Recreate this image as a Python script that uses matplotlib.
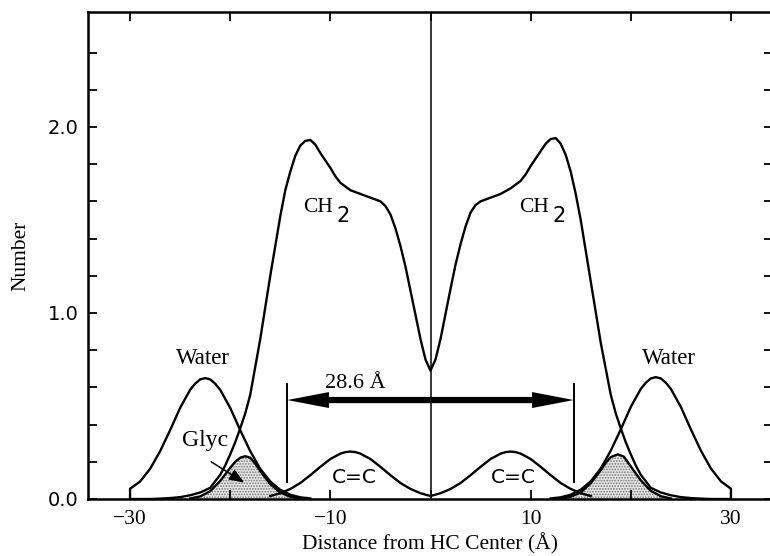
import numpy as np
import matplotlib
matplotlib.use("Agg")
import matplotlib.pyplot as plt

plt.rcParams["font.family"] = "Liberation Serif"
plt.rcParams["hatch.linewidth"] = 0.8

# ---- data ----
ch2_x = [-30, -28, -27, -26, -25, -24, -23, -22, -21, -20.5, -20, -19.5, -19,
         -18.5, -18, -17, -16, -15, -14.5, -14, -13.5, -13, -12.5, -12, -11.5,
         -11, -10.5, -10, -9.5, -9, -8, -7, -6, -5, -4.5, -4, -3.5, -3, -2.5,
         -2, -1.5, -1, -0.5, 0,
         0.5, 1, 1.5, 2, 2.5, 3, 3.5, 4, 4.5, 5, 6, 7, 8, 9, 9.5, 10, 10.5,
         11, 11.5, 12, 12.5, 13, 13.5, 14, 14.5, 15, 16, 17, 18, 18.5, 19,
         19.5, 20, 20.5, 21, 22, 23, 24, 25, 26, 27, 28, 30]
ch2_y = [0, 0, 0.002, 0.005, 0.01, 0.02, 0.035, 0.06, 0.13, 0.18, 0.24, 0.305,
         0.38, 0.46, 0.56, 0.86, 1.20, 1.52, 1.66, 1.76, 1.845, 1.90, 1.925,
         1.93, 1.905, 1.86, 1.82, 1.78, 1.735, 1.70, 1.66, 1.64, 1.62, 1.60,
         1.575, 1.53, 1.455, 1.36, 1.25, 1.12, 0.99, 0.86, 0.75, 0.69,
         0.75, 0.86, 0.995, 1.13, 1.26, 1.37, 1.465, 1.54, 1.58, 1.60, 1.62,
         1.64, 1.67, 1.71, 1.745, 1.79, 1.83, 1.87, 1.91, 1.935, 1.94, 1.91,
         1.85, 1.76, 1.64, 1.50, 1.17, 0.84, 0.56, 0.46, 0.38, 0.305, 0.24,
         0.18, 0.13, 0.06, 0.035, 0.02, 0.01, 0.005, 0.002, 0, 0]

water_l_x = [-30, -30, -29, -28, -27, -26, -25, -24, -23.5, -23, -22.5, -22,
             -21.5, -21, -20, -19, -18, -17, -16, -15, -14, -13, -12]
water_l_y = [0, 0.055, 0.094, 0.162, 0.257, 0.37, 0.49, 0.587, 0.62, 0.643, 0.65,
             0.643, 0.62, 0.587, 0.49, 0.37, 0.257, 0.162, 0.094, 0.049, 0.023,
             0.009, 0.003]
water_r_x = [12, 13, 14, 15, 16, 17, 18, 19, 20, 21, 21.5, 22, 22.5, 23,
             23.5, 24, 25, 26, 27, 28, 29, 30, 30]
water_r_y = [0.003, 0.009, 0.023, 0.05, 0.095, 0.164, 0.26, 0.374, 0.495, 0.592,
             0.625, 0.648, 0.655, 0.648, 0.625, 0.592, 0.495, 0.374, 0.26, 0.164,
             0.095, 0.055, 0]

glyc_l_x = [-24, -23, -22, -21, -20, -19.5, -19, -18.5, -18, -17.5, -17, -16,
            -15, -14, -13]
glyc_l_y = [0.003, 0.014, 0.042, 0.097, 0.168, 0.2, 0.222, 0.23, 0.222, 0.19,
            0.15, 0.08, 0.035, 0.012, 0.003]
glyc_r_x = [13, 14, 15, 16, 17, 17.5, 18, 18.7, 19.3, 20, 21, 22, 23, 24]
glyc_r_y = [0.003, 0.012, 0.035, 0.085, 0.155, 0.195, 0.225, 0.24, 0.228,
            0.175, 0.10, 0.044, 0.015, 0.003]

cc_l_x = [-16, -15, -14, -13, -12, -11, -10, -9, -8.5, -8, -7.5, -7, -6, -5,
          -4, -3, -2, -1, 0]
cc_l_y = [0.016, 0.031, 0.054, 0.086, 0.128, 0.173, 0.215, 0.244, 0.252, 0.255,
          0.252, 0.244, 0.215, 0.173, 0.128, 0.086, 0.054, 0.031, 0.016]
cc_r_x = [0, 1, 2, 3, 4, 5, 6, 7, 7.5, 8, 8.5, 9, 10, 11, 12, 13, 14, 15, 16]
cc_r_y = [0.016, 0.031, 0.054, 0.086, 0.128, 0.173, 0.215, 0.244, 0.252, 0.255,
          0.252, 0.244, 0.215, 0.173, 0.128, 0.086, 0.054, 0.031, 0.016]

bilayer_half = 14.3   # 28.6 A thickness
arrow_y = 0.532
bracket_y = [0.09, 0.62]

xticks = [-30, -20, -10, 0, 10, 20, 30]
xticklabels = ["\u221230", "", "\u221210", "", "10", "", "30"]
yticks = [0.0, 0.2, 0.4, 0.6, 0.8, 1.0, 1.2, 1.4, 1.6, 1.8, 2.0, 2.2, 2.4]
yticklabels = ["0.0", "", "", "", "", "1.0", "", "", "", "", "2.0", "", ""]

# ---- figure ----
fig = plt.figure(figsize=(7.7, 5.56), dpi=100)
ax = fig.add_axes([88 / 770, 57 / 556, 685 / 770, 487 / 556])
ax.set_xlim(-34.2, 34.2)
ax.set_ylim(0, 2.618)

lw = 1.7
ax.plot(ch2_x, ch2_y, color="k", lw=lw)
ax.plot(water_l_x, water_l_y, color="k", lw=lw)
ax.plot(water_r_x, water_r_y, color="k", lw=lw)
for gx, gy in [(glyc_l_x, glyc_l_y), (glyc_r_x, glyc_r_y)]:
    ax.fill_between(gx, 0, gy, facecolor="#e4e4e4", edgecolor="#777777",
                    hatch="......", linewidth=0)
    ax.plot(gx, gy, color="k", lw=lw)
ax.plot(cc_l_x, cc_l_y, color="k", lw=lw)
ax.plot(cc_r_x, cc_r_y, color="k", lw=lw)

# centre line
ax.axvline(0, color="k", lw=1.1)

# bracket + thickness arrow
for bx in (-bilayer_half, bilayer_half):
    ax.plot([bx, bx], bracket_y, color="k", lw=1.4)
for end in (-bilayer_half, bilayer_half):
    ax.annotate("", xy=(end, arrow_y), xytext=(0, arrow_y),
                arrowprops=dict(arrowstyle="simple,head_length=3.0,head_width=1.15,tail_width=0.45",
                                color="k", lw=0, shrinkA=0, shrinkB=0,
                                mutation_scale=10))
ax.text(-7.5, 0.62, "28.6 \u00c5", fontsize=16, ha="center", va="center")

# labels
ax.text(-22.7, 0.756, "Water", fontsize=16.5, ha="center", va="center")
ax.text(23.8, 0.756, "Water", fontsize=16.5, ha="center", va="center")
ax.text(-22.5, 0.317, "Glyc", fontsize=17, ha="center", va="center")
ax.annotate("", xy=(-18.6, 0.088), xytext=(-21.9, 0.20),
            arrowprops=dict(arrowstyle="-|>,head_length=0.9,head_width=0.35",
                            color="k", lw=1.1, shrinkA=0, shrinkB=0,
                            mutation_scale=10))
ax.text(-11.2, 1.565, "CH", fontsize=15.5, ha="center", va="center")
ax.text(-8.7, 1.52, "2", fontsize=15, ha="center", va="center",
        family="DejaVu Sans")
ax.text(10.3, 1.568, "CH", fontsize=15.5, ha="center", va="center")
ax.text(12.8, 1.523, "2", fontsize=15, ha="center", va="center",
        family="DejaVu Sans")
ax.text(-7.6, 0.113, "C=C", fontsize=14.5, ha="center", va="center",
        family="DejaVu Sans")
ax.text(8.3, 0.113, "C=C", fontsize=14.5, ha="center", va="center",
        family="DejaVu Sans")

# axes styling
ax.set_xticks(xticks)
ax.set_xticklabels(xticklabels, fontsize=15.5)
ax.set_yticks(yticks)
ax.set_yticklabels(yticklabels, fontsize=14, family="DejaVu Sans")
ax.tick_params(direction="in", top=True, right=True, length=6.5, width=1.3)
ax.tick_params(axis="x", pad=8)
ax.tick_params(axis="y", pad=7)
for s in ax.spines.values():
    s.set_linewidth(1.8)

ax.set_xlabel("Distance from HC Center (\u00c5)", fontsize=15.5, labelpad=3)
ax.set_ylabel("Number", fontsize=15.5, labelpad=12)

fig.savefig("out.png", dpi=100)
